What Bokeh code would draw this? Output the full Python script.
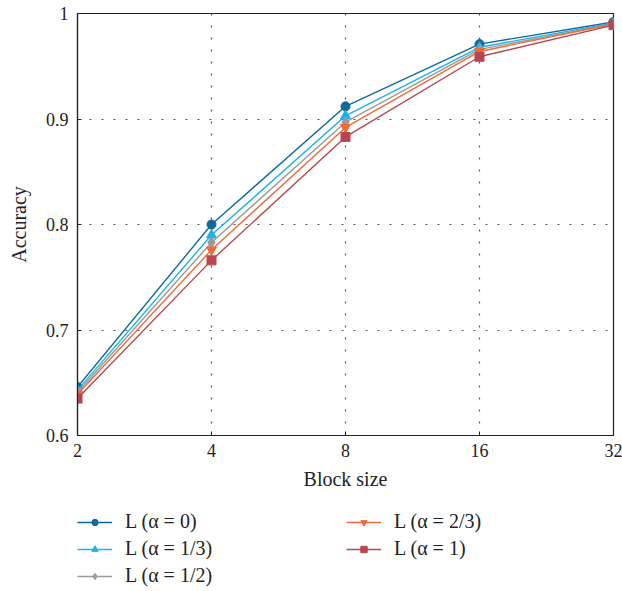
from bokeh.plotting import figure
from bokeh.models import FixedTicker, Legend, LegendItem
from bokeh.layouts import column
from bokeh.embed import file_html
from bokeh.resources import INLINE

block_sizes = [2, 4, 8, 16, 32]
acc_a0 = [0.646, 0.800, 0.912, 0.971, 0.992]
acc_a13 = [0.643, 0.790, 0.903, 0.968, 0.991]
acc_a12 = [0.641, 0.783, 0.897, 0.966, 0.990]
acc_a23 = [0.639, 0.776, 0.892, 0.964, 0.990]
acc_a1 = [0.635, 0.766, 0.883, 0.959, 0.989]

labels = ["L (α = 0)", "L (α = 1/3)", "L (α = 1/2)", "L (α = 2/3)", "L (α = 1)"]
colors = ["#11699a", "#1cb2e8", "#9a9a9a", "#f06a3a", "#b8474d"]
markers = ["circle", "triangle", "diamond", "inverted_triangle", "square"]
sizes = [9, 10, 11, 10, 9]
series = [acc_a0, acc_a13, acc_a12, acc_a23, acc_a1]

FONT = "Liberation Serif"

p = figure(width=622, height=497, x_axis_type="log", x_range=(2, 32), y_range=(0.6, 1.0),
           output_backend="svg", toolbar_location=None,
           min_border_left=77, min_border_top=13, min_border_right=9, min_border_bottom=62)

for col, mk, sz, ys in zip(colors, markers, sizes, series):
    p.line(block_sizes, ys, line_color=col, line_width=1.4)
    p.scatter(block_sizes, ys, marker=mk, size=sz, fill_color=col, line_color=col)

p.xaxis.ticker = FixedTicker(ticks=block_sizes)
p.xaxis.major_label_overrides = {v: str(v) for v in block_sizes}
p.yaxis.ticker = FixedTicker(ticks=[0.6, 0.7, 0.8, 0.9, 1.0])
p.yaxis.major_label_overrides = {0.6: "0.6", 0.7: "0.7", 0.8: "0.8", 0.9: "0.9", 1: "1"}

for ax in (p.xaxis, p.yaxis):
    ax.major_label_text_font = FONT
    ax.major_label_text_font_size = "18px"
    ax.major_label_text_color = "#222222"
    ax.axis_label_text_font = FONT
    ax.axis_label_text_font_size = "20px"
    ax.axis_label_text_font_style = "normal"
    ax.axis_label_text_color = "#222222"
    ax.axis_line_color = "#222222"
    ax.axis_line_width = 1.2
    ax.major_tick_in = 4
    ax.major_tick_out = 0
    ax.major_tick_line_color = "#222222"
    ax.minor_tick_line_color = None

p.xaxis.axis_label = "Block size"
p.yaxis.axis_label = "Accuracy"
p.xaxis.major_label_standoff = 8
p.yaxis.major_label_standoff = 9
p.xaxis.axis_label_standoff = 8
p.yaxis.axis_label_standoff = 13

p.outline_line_color = "#222222"
p.outline_line_width = 1.2

p.xgrid.ticker = FixedTicker(ticks=[4, 8, 16])
p.ygrid.ticker = FixedTicker(ticks=[0.7, 0.8, 0.9])
for g in (p.xgrid, p.ygrid):
    g.grid_line_color = "#555555"
    g.grid_line_dash = "2 10"
    g.grid_line_width = 1.2

# legend panel (separate figure below the chart; its glyphs lie outside its view range)
lp = figure(width=622, height=94, x_range=(-10, -9), y_range=(-10, -9),
            output_backend="svg", toolbar_location=None,
            x_axis_location=None, y_axis_location=None,
            min_border_left=0, min_border_right=0, min_border_top=0, min_border_bottom=0)
lp.outline_line_color = None
lp.xgrid.visible = False
lp.ygrid.visible = False

items = []
for lab, col, mk, sz, ys in zip(labels, colors, markers, sizes, series):
    r1 = lp.line(block_sizes, ys, line_color=col, line_width=1.4)
    r2 = lp.scatter(block_sizes, ys, marker=mk, size=sz, fill_color=col, line_color=col)
    items.append(LegendItem(label=lab, renderers=[r1, r2]))

legend = Legend(items=items, location=(0, 4), orientation="vertical", nrows=3,
                label_text_font=FONT, label_text_font_size="20px", label_text_color="#222222",
                glyph_width=35, glyph_height=16, label_height=16, label_width=217,
                spacing=4, label_standoff=13, padding=0, margin=0,
                border_line_alpha=0, background_fill_alpha=0)
lp.add_layout(legend, "center")

layout = column(p, lp, spacing=0)
open("out.html", "w").write(file_html(layout, INLINE))
